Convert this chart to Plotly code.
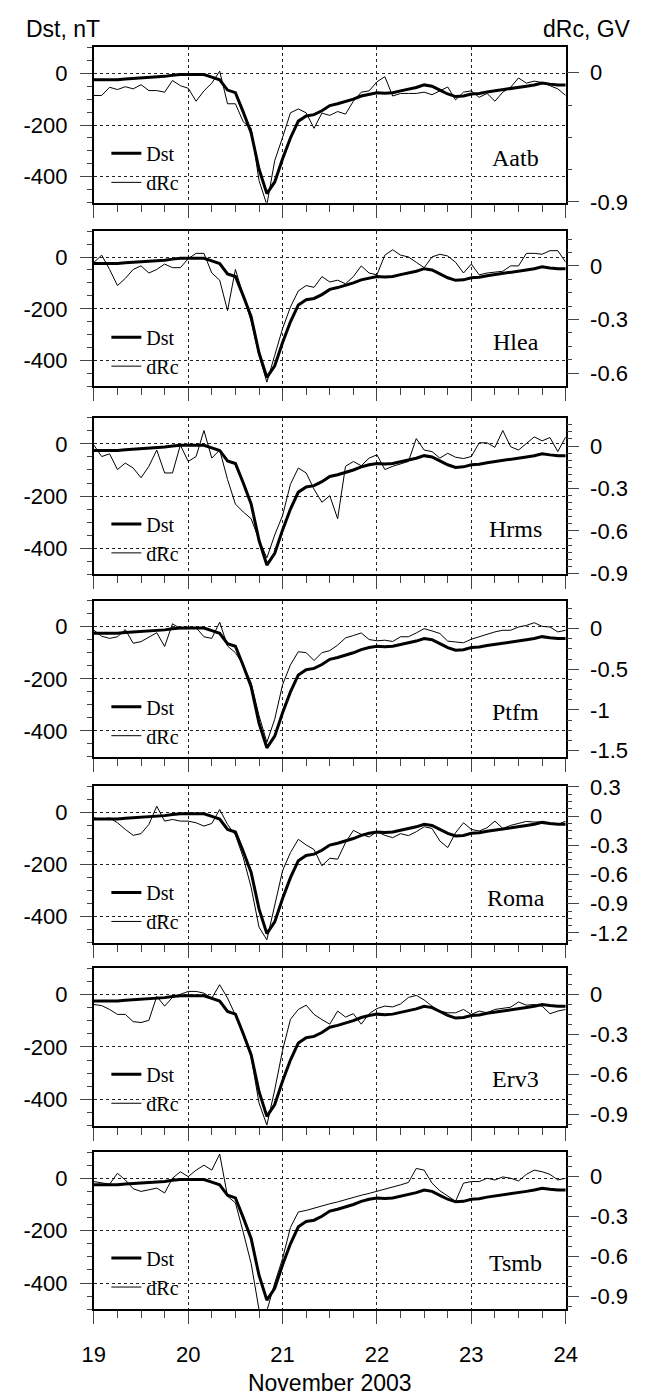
import plotly.graph_objects as go

W, H = 648, 1396

# time grid: every 2 hours from 19 Nov 00 UT to 24 Nov 00 UT (in days)
hours = list(range(0, 121, 2))
days = [19 + h / 24 for h in hours]

# Dst index, nT
dst = [-25, -25, -25, -25, -22, -20, -18, -18, -15, -12, -8, -5,
       -5, -5, -5, -15, -25, -65, -75, -150, -230, -370, -465, -420,
       -330, -250, -185, -165, -160, -145, -125, -118, -110, -100, -88, -80,
       -75, -77, -75, -68, -62, -55, -45, -50, -65, -80, -90, -88,
       -80, -78, -72, -68, -62, -60, -55, -50, -45, -38, -42, -45,
       -45]

# dRc, GV for each station
drc_aatb = [-0.158, -0.158, -0.101, -0.117, -0.097, -0.112, -0.083, -0.124, -0.124, -0.135, -0.054, -0.09,
            -0.108, -0.198, -0.126, -0.072, 0.011, -0.216, -0.216, -0.342, -0.387, -0.75, -0.92, -0.612,
            -0.45, -0.279, -0.252, -0.279, -0.387, -0.281, -0.297, -0.27, -0.288, -0.198, -0.135, -0.126,
            -0.063, -0.027, -0.162, -0.144, -0.144, -0.144, -0.135, -0.153, -0.126, -0.099, -0.189, -0.135,
            -0.126, -0.171, -0.144, -0.198, -0.135, -0.101, -0.036, -0.072, -0.058, -0.068, -0.09, -0.112,
            -0.158]
drc_hlea = [0.019, 0.06, -0.02, -0.11, -0.07, -0.02, 0.0, -0.04, -0.02, 0.01, -0.01, -0.01,
            0.04, 0.07, 0.07, -0.04, -0.08, -0.25, -0.02, -0.16, -0.31, -0.5, -0.65, -0.5,
            -0.35, -0.23, -0.14, -0.11, -0.12, -0.06, -0.09, -0.08, -0.1, -0.06, 0.0, -0.04,
            -0.05, 0.06, 0.09, 0.06, 0.05, 0.02, -0.01, 0.05, 0.065, 0.055, 0.02, -0.04,
            0.01, -0.05, -0.04, -0.035, -0.03, 0.0, 0.0, 0.07, 0.07, 0.065, 0.085, 0.085,
            0.02]
drc_hrms = [0.007, -0.074, -0.055, -0.166, -0.12, -0.155, -0.224, -0.143, -0.028, -0.19, -0.19, 0.007,
            -0.109, -0.074, 0.11, -0.085, -0.028, -0.236, -0.41, -0.466, -0.513, -0.663, -0.79, -0.628,
            -0.49, -0.27, -0.155, -0.19, -0.305, -0.397, -0.351, -0.513, -0.143, -0.109, -0.139, -0.085,
            -0.062, -0.166, -0.143, -0.125, -0.109, 0.053, -0.028, -0.039, -0.085, -0.051, -0.079, -0.088,
            -0.074, 0.023, 0.023, -0.009, 0.11, -0.005, -0.028, 0.018, 0.065, 0.037, 0.06, -0.039,
            0.065]
drc_ptfm = [-0.02, -0.093, -0.12, -0.1, -0.012, -0.18, -0.16, -0.1, -0.05, -0.22, 0.06, 0.0,
            0.0, 0.012, -0.1, -0.12, 0.08, -0.215, -0.296, -0.446, -0.67, -1.07, -1.4, -1.115,
            -0.69, -0.446, -0.284, -0.296, -0.393, -0.296, -0.27, -0.203, -0.114, -0.085, -0.053, -0.134,
            -0.15, -0.142, -0.158, -0.1, -0.1, -0.053, 0.0, -0.028, -0.06, -0.154, -0.162, -0.174,
            -0.13, -0.1, -0.069, -0.04, -0.02, -0.02, 0.02, 0.04, 0.073, 0.028, 0.02, -0.04,
            -0.02]
drc_roma = [-0.017, -0.034, -0.017, -0.068, -0.136, -0.197, -0.18, -0.085, 0.102, -0.051, -0.034, -0.051,
            -0.051, -0.068, -0.102, -0.075, 0.068, -0.085, -0.194, -0.425, -0.731, -1.14, -1.27, -0.9,
            -0.56, -0.374, -0.238, -0.296, -0.343, -0.51, -0.432, -0.442, -0.272, -0.146, -0.187, -0.214,
            -0.16, -0.197, -0.221, -0.18, -0.2, -0.16, -0.109, -0.126, -0.255, -0.323, -0.17, -0.068,
            -0.136, -0.153, -0.119, -0.051, -0.126, -0.095, -0.075, -0.054, -0.061, -0.058, -0.078, -0.085,
            -0.051]
drc_erv3 = [-0.078, -0.086, -0.115, -0.152, -0.152, -0.206, -0.213, -0.196, -0.017, -0.09, -0.025, 0.0,
            0.02, 0.02, 0.007, -0.03, 0.07, -0.03, -0.157, -0.311, -0.47, -0.814, -0.98, -0.716,
            -0.42, -0.189, -0.115, -0.083, -0.152, -0.191, -0.225, -0.127, -0.172, -0.147, -0.225, -0.147,
            -0.108, -0.09, -0.096, -0.074, -0.025, -0.01, -0.044, -0.09, -0.127, -0.14, -0.14, -0.115,
            -0.152, -0.127, -0.14, -0.115, -0.108, -0.098, -0.059, -0.083, -0.078, -0.09, -0.147, -0.127,
            -0.115]
drc_tsmb = [-0.037, -0.049, -0.057, 0.025, -0.025, -0.091, -0.111, -0.099, -0.086, -0.123, -0.012, 0.037,
            0.0, 0.049, 0.086, 0.049, 0.17, -0.148, -0.197, -0.419, -0.653, -1.0, -1.01, -0.8,
            -0.616, -0.382, -0.266, -0.254, -0.236, -0.222, -0.204, -0.19, -0.172, -0.158, -0.14, -0.126,
            -0.111, -0.094, -0.079, -0.062, -0.044, 0.062, 0.049, -0.049, -0.106, -0.148, -0.185, -0.049,
            -0.037, -0.037, -0.012, -0.025, -0.002, -0.012, -0.032, 0.017, 0.049, 0.037, 0.017, -0.025,
            -0.012]

stations = ["Aatb", "Hlea", "Hrms", "Ptfm", "Roma", "Erv3", "Tsmb"]
drc_series = [drc_aatb, drc_hlea, drc_hrms, drc_ptfm, drc_roma, drc_erv3, drc_tsmb]

# right-axis (dRc) ranges and ticks per panel
right_ranges = [[-0.905, 0.177], [-0.674, 0.194], [-0.905, 0.199], [-1.58, 0.344],
                [-1.30, 0.305], [-0.983, 0.193], [-0.998, 0.185]]
right_ticks = [[0, -0.9], [0, -0.3, -0.6], [0, -0.3, -0.6, -0.9], [0, -0.5, -1, -1.5],
               [0.3, 0, -0.3, -0.6, -0.9, -1.2], [0, -0.3, -0.6, -0.9], [0, -0.3, -0.6, -0.9]]
right_labels = [["0", "-0.9"], ["0", "-0.3", "-0.6"], ["0", "-0.3", "-0.6", "-0.9"],
                ["0", "-0.5", "-1", "-1.5"], ["0.3", "0", "-0.3", "-0.6", "-0.9", "-1.2"],
                ["0", "-0.3", "-0.6", "-0.9"], ["0", "-0.3", "-0.6", "-0.9"]]
right_minor = [0.225, 0.075, 0.05, 0.125, 0.075, 0.075, 0.075]

dst_ticks = [0, -200, -400]
dst_labels = ["0", "-200", "-400"]
day_ticks = [19, 20, 21, 22, 23, 24]
day_labels = ["19", "20", "21", "22", "23", "24"]

# panel frames in pixels (top, bottom)
panel_px = [(36, 194), (223, 381), (413, 572), (599, 758), (788, 947), (973, 1133), (1160, 1320)]
x_px = (85, 575)

SANS = "Liberation Sans, Arial, sans-serif"
SERIF = "Liberation Serif, Times New Roman, serif"
tickfont = dict(family=SANS, size=22, color="black")

fig = go.Figure()
layout = dict(
    width=W, height=H,
    margin=dict(l=0, r=0, t=0, b=0),
    paper_bgcolor="white", plot_bgcolor="white",
    annotations=[],
)

for k in range(7):
    i = k + 1
    xs = "" if i == 1 else str(i)
    yl = "" if i == 1 else str(i)
    yr = str(i + 7)
    leg = "legend" if i == 1 else f"legend{i}"
    top, bot = panel_px[k]

    fig.add_trace(go.Scatter(x=days, y=dst, mode="lines", name="Dst",
                             line=dict(color="black", width=3),
                             xaxis="x" + xs, yaxis="y" + yl, legend=leg))
    fig.add_trace(go.Scatter(x=days, y=drc_series[k], mode="lines", name="dRc",
                             line=dict(color="black", width=1),
                             xaxis="x" + xs, yaxis="y" + yr, legend=leg))

    layout["xaxis" + xs] = dict(
        domain=[x_px[0] / W, x_px[1] / W], range=[19, 24], anchor="y" + yl,
        showline=True, mirror=True, linecolor="black", linewidth=2,
        showgrid=True, gridcolor="#222", griddash="dot", gridwidth=1,
        tickmode="array", tickvals=day_ticks, ticktext=day_labels,
        showticklabels=(i == 7), ticks="outside", ticklen=13, tickwidth=1, tickcolor="#444",
        minor=dict(tickmode="linear", tick0=19, dtick=0.25, ticks="outside", ticklen=7,
                   tickcolor="#444", tickwidth=1, showgrid=False),
        zeroline=False, tickfont=dict(family=SANS, size=22, color="black"),
        ticklabelstandoff=11,
    )
    layout["yaxis" + yl] = dict(
        domain=[1 - bot / H, 1 - top / H], range=[-500, 100], anchor="x" + xs,
        showline=True, mirror=True, linecolor="black", linewidth=2,
        showgrid=True, gridcolor="#222", griddash="dot", gridwidth=1,
        tickmode="array", tickvals=dst_ticks, ticktext=dst_labels,
        ticks="outside", ticklen=12, tickwidth=1, tickcolor="#444",
        minor=dict(tickmode="linear", tick0=0, dtick=50, ticks="outside", ticklen=5,
                   tickcolor="#444", tickwidth=1, showgrid=False),
        zeroline=False, tickfont=tickfont, ticklabelstandoff=8,
    )
    layout["yaxis" + yr] = dict(
        overlaying="y" + yl, side="right", anchor="x" + xs,
        range=right_ranges[k], showline=False, showgrid=False, zeroline=False,
        tickmode="array", tickvals=right_ticks[k], ticktext=right_labels[k],
        ticks="outside", ticklen=12, tickwidth=1, tickcolor="#444",
        minor=dict(tickmode="linear", tick0=0, dtick=right_minor[k], ticks="outside", ticklen=5,
                   tickcolor="#444", tickwidth=1, showgrid=False),
        tickfont=tickfont, ticklabelstandoff=7,
    )
    layout[leg] = dict(
        x=98 / W, y=1 - (top + 88) / H, xanchor="left", yanchor="top",
        bgcolor="rgba(0,0,0,0)", borderwidth=0, tracegroupgap=0,
        font=dict(family=SERIF, size=20, color="black"), itemwidth=30,
    )
    layout["annotations"].append(dict(
        text=stations[k], xref="x" + xs + " domain", yref="y" + yl + " domain",
        x=(523 - x_px[0]) / (x_px[1] - x_px[0]), y=1 - 113 / (bot - top),
        xanchor="center", yanchor="middle", showarrow=False,
        font=dict(family=SERIF, size=24, color="black"),
    ))

layout["xaxis7"]["title"] = dict(text="November 2003", font=dict(family=SANS, size=23, color="black"),
                                 standoff=12)

layout["annotations"].append(dict(text="Dst, nT", xref="paper", yref="paper", x=12 / W, y=1 - 17 / H,
                                  xanchor="left", yanchor="middle", showarrow=False,
                                  font=dict(family=SANS, size=23, color="black")))
layout["annotations"].append(dict(text="dRc, GV", xref="paper", yref="paper", x=645 / W, y=1 - 17 / H,
                                  xanchor="right", yanchor="middle", showarrow=False,
                                  font=dict(family=SANS, size=23, color="black")))

fig.update_layout(**layout)
fig.write_html("out.html")
